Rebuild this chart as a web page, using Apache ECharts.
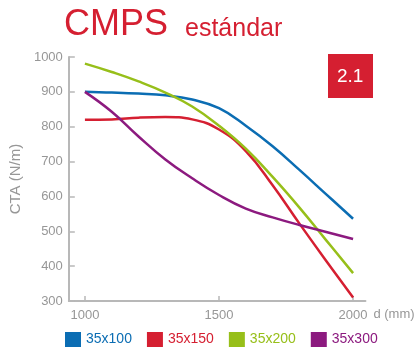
<!DOCTYPE html>
<html>
<head>
<meta charset="utf-8">
<script src="https://cdn.jsdelivr.net/npm/echarts@6/dist/echarts.min.js"></script>
<style>
  html, body { margin: 0; padding: 0; background: #fff; }
  #chart { width: 417px; height: 349px; }
</style>
</head>
<body>
<div id="chart"></div>
<script>
// Span d (mm) sampled every 100 mm
const distances = [1000, 1100, 1200, 1300, 1400, 1500, 1600, 1700, 1800, 1900, 2000];

// CTA (N/m) per profile
const cta35x100 = [900, 898, 895, 890, 878, 853, 803, 744, 676, 606, 536];
const cta35x150 = [820, 821, 826, 828, 821, 792, 730, 632, 522, 415, 310];
const cta35x200 = [981, 957, 930, 898, 858, 803, 737, 656, 568, 474, 380];
const cta35x300 = [900, 843, 772, 706, 652, 604, 565, 540, 518, 498, 478];

const seriesNames = ['35x100', '35x150', '35x200', '35x300'];
const seriesColors = ['#0b6db3', '#d51f31', '#97bf1a', '#8c1a7f'];
const seriesValues = [cta35x100, cta35x150, cta35x200, cta35x300];

const xTicks = [1000, 1500, 2000];

const FONT = '"Liberation Sans", Arial, sans-serif';
const AXIS_GREY = '#b8b8b8';
const LABEL_GREY = '#979797';
const RED = '#d51f31';

const chart = echarts.init(document.getElementById('chart'), null, { renderer: 'canvas' });

const series = seriesNames.map((name, i) => ({
  name,
  type: 'line',
  smooth: 0.45,
  symbol: 'none',
  lineStyle: { width: 2.5, color: seriesColors[i] },
  itemStyle: { color: seriesColors[i] },
  data: distances.map((d, j) => [d, seriesValues[i][j]])
}));

chart.setOption({
  animation: false,
  backgroundColor: '#fff',
  textStyle: { fontFamily: FONT },
  grid: { left: 64, top: 57, right: 42, bottom: 48, containLabel: false },
  graphic: [
    {
      type: 'text', x: 64, y: 7,
      style: { text: 'CMPS', fill: RED, font: '36px ' + FONT, verticalAlign: 'top' }
    },
    {
      type: 'text', x: 185, y: 17,
      style: { text: 'estándar', fill: RED, font: '25px ' + FONT, verticalAlign: 'top' }
    },
    {
      type: 'rect', left: 328, top: 54,
      shape: { width: 45, height: 44 },
      style: { fill: RED }
    },
    {
      type: 'text', left: 337, top: 67,
      style: { text: '2.1', fill: '#fff', font: '19px ' + FONT }
    }
  ],
  legend: {
    left: 65, top: 332,
    padding: 0,
    icon: 'rect',
    itemWidth: 16, itemHeight: 15,
    itemGap: 15,
    textStyle: { fontSize: 14, fontFamily: FONT, padding: [0, 0, 0, 0] },
    data: seriesNames.map((n, i) => ({ name: n, textStyle: { color: seriesColors[i] } }))
  },
  xAxis: {
    type: 'value',
    min: 940, max: 2046,
    name: 'd (mm)',
    nameLocation: 'end',
    nameGap: 4,
    nameTextStyle: { color: LABEL_GREY, fontSize: 13, verticalAlign: 'top', padding: [7, 0, 0, 0] },
    axisLine: { show: true, onZero: false, lineStyle: { color: AXIS_GREY, width: 2 } },
    axisTick: { show: true, inside: true, length: 5, customValues: xTicks, lineStyle: { color: AXIS_GREY, width: 1.5 } },
    axisLabel: { customValues: xTicks, color: LABEL_GREY, fontSize: 13, margin: 8, formatter: v => String(v) },
    splitLine: { show: false }
  },
  yAxis: {
    type: 'value',
    min: 300, max: 1000, interval: 100,
    name: 'CTA (N/m)',
    nameLocation: 'middle',
    nameGap: 31,
    nameRotate: 90,
    nameTextStyle: { color: LABEL_GREY, fontSize: 15 },
    axisLine: { show: true, lineStyle: { color: AXIS_GREY, width: 2 } },
    axisTick: { show: true, inside: true, length: 6, lineStyle: { color: AXIS_GREY, width: 1.5 } },
    axisLabel: { color: LABEL_GREY, fontSize: 13, margin: 6, formatter: v => String(v) },
    splitLine: { show: false }
  },
  series
});
</script>
</body>
</html>
